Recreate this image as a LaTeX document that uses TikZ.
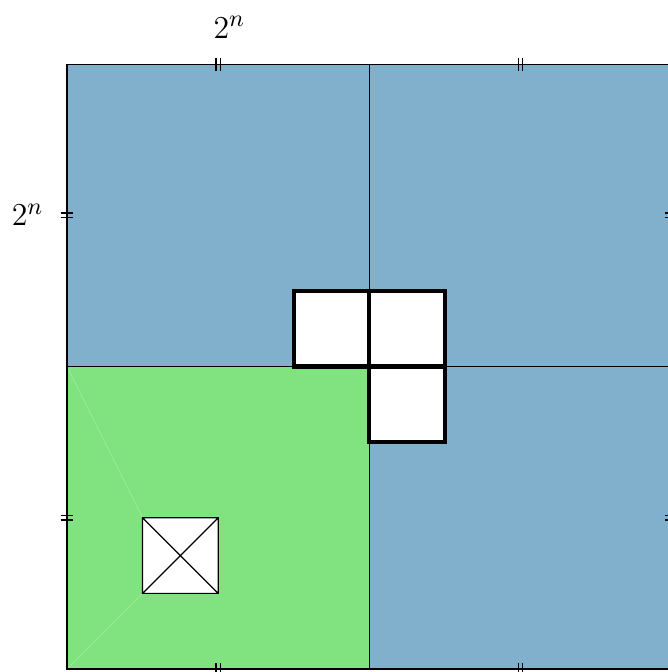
\documentclass[tikz,border=0pt]{standalone}
\usepackage{amsmath,amssymb}
\usepackage{xcolor}
\usepackage{tikz}
\definecolor{quadblue}{RGB}{128,176,203}
\definecolor{quadgreen}{RGB}{128,227,128}
\tikzset{
  quad/.style={draw=black,line width=0.5pt},
  tromino/.style={draw=black,fill=white,line width=1.6pt,line join=miter},
  hole/.style={draw=black,fill=white,line width=0.45pt},
  seam/.style={line width=0.2pt,quadgreen!70!white},
  lbl/.style={font=\fontsize{13}{15}\selectfont}
}
\newcommand{\vtick}[2]{\draw[line width=0.5pt] (#1-0.03,#2-0.085) -- (#1-0.03,#2+0.085) (#1+0.03,#2-0.085) -- (#1+0.03,#2+0.085);}
\newcommand{\htick}[2]{\draw[line width=0.5pt] (#1-0.085,#2-0.03) -- (#1+0.085,#2-0.03) (#1-0.085,#2+0.03) -- (#1+0.085,#2+0.03);}

\begin{document}
\begin{tikzpicture}
\useasboundingbox (-0.886,-0.04) rectangle (7.95,8.85);
\fill[quadblue] (0,0) rectangle (8,8);
\fill[quadgreen] (0,0) rectangle (4,4);
\draw[seam] (0,4) -- (1,2) (0,0) -- (1,1);
\draw[quad] (0,0) rectangle (8,8) (4,0) -- (4,8) (0,4) -- (8,4);
% missing cell
\draw[hole] (1,1) rectangle (2,2) (1,1) -- (2,2) (1,2) -- (2,1);
% L-tromino at the centre
\foreach \x/\y in {3/4,4/4,4/3} {\draw[tromino] (\x,\y) rectangle ++(1,1);}
\foreach \p in {2,6} {\vtick{\p}{8} \vtick{\p}{0} \htick{0}{\p} \htick{8}{\p}}
\node[lbl] (topsize) at (2.15,8.49) {$2^n$};
\node[lbl] (leftsize) at (-0.52,6.01) {$2^n$};
\end{tikzpicture}
\end{document}
